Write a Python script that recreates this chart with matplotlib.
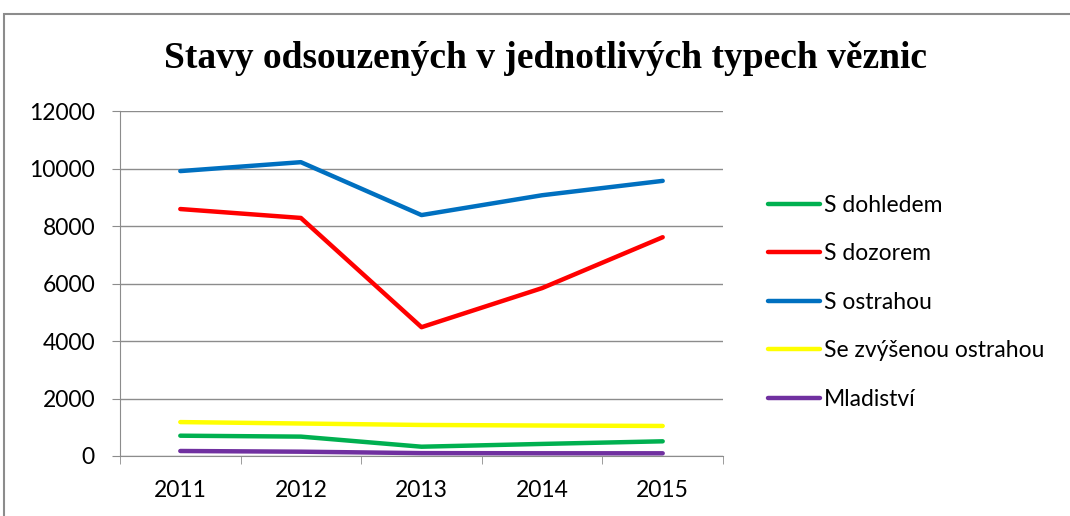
import matplotlib.pyplot as plt
from matplotlib.patches import Rectangle

years = ["2011", "2012", "2013", "2014", "2015"]
s_dohledem = [706, 674, 323, 420, 511]
s_dozorem = [8590, 8280, 4480, 5840, 7610]
s_ostrahou = [9910, 10220, 8380, 9070, 9570]
se_zvysenou = [1180, 1130, 1080, 1060, 1045]
mladistvi = [174, 150, 100, 95, 94]

series = [
    ("S dohledem", s_dohledem, "#00b050"),
    ("S dozorem", s_dozorem, "#ff0000"),
    ("S ostrahou", s_ostrahou, "#0070c0"),
    ("Se zvýšenou ostrahou", se_zvysenou, "#ffff00"),
    ("Mladiství", mladistvi, "#7030a0"),
]

fig = plt.figure(figsize=(10.7, 5.16), dpi=100)
fig.patches.append(Rectangle((4 / 1070, -0.1), 1.2, 1 - 14 / 516 + 0.1,
                             transform=fig.transFigure, fill=False,
                             edgecolor="#8c8c8c", linewidth=1.5))

ax = fig.add_axes([120 / 1070, 1 - 456 / 516, 603 / 1070, 345 / 516])
x = list(range(len(years)))
for name, vals, clr in series:
    ax.plot(x, vals, color=clr, linewidth=3.2, label=name, solid_capstyle="round")

ax.set_xlim(-0.5, len(years) - 0.5)
ax.set_ylim(0, 12000)
ax.set_yticks(range(0, 12001, 2000))
ax.set_xticks(x)
ax.set_xticklabels(years)
ax.set_xticks([i - 0.5 for i in range(len(years) + 1)], minor=True)
ax.tick_params(axis="x", which="major", length=0, pad=17)
ax.tick_params(axis="x", which="minor", length=6, color="#8c8c8c")
ax.tick_params(axis="y", length=6, color="#8c8c8c", pad=12)
for lbl in ax.get_xticklabels() + ax.get_yticklabels():
    lbl.set_fontfamily("Lato")
    lbl.set_fontsize(16.5)
ax.grid(axis="y", color="#8c8c8c", linewidth=1)
ax.set_axisbelow(True)
for side in ["top", "right"]:
    ax.spines[side].set_visible(False)
ax.spines["left"].set_color("#8c8c8c")
ax.spines["bottom"].set_color("#8c8c8c")

fig.text(546 / 1070, 1 - 58 / 516, "Stavy odsouzených v jednotlivých typech věznic",
         ha="center", va="center", fontfamily="Liberation Serif",
         fontweight="bold", fontsize=27)

ax.legend(loc="center left", bbox_to_anchor=(1.04, 0.446), frameon=False,
          prop={"family": "Lato", "size": 16.5}, handlelength=2.3,
          handletextpad=0.15, labelspacing=1.2)

fig.savefig("out.png", dpi=100)
